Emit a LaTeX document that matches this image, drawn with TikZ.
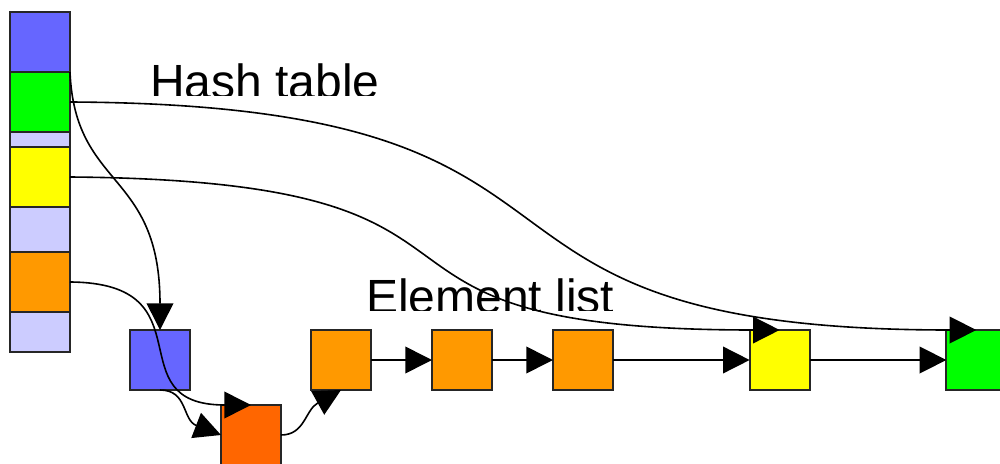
\documentclass[tikz,border=0pt]{standalone}
\usepackage{fontspec}
\setmainfont{Liberation Sans}
\usetikzlibrary{positioning,arrows.meta}

\definecolor{hblue}{HTML}{6666FF}
\definecolor{hgreen}{HTML}{00FF00}
\definecolor{hpale}{HTML}{CCCCFF}
\definecolor{hyellow}{HTML}{FFFF00}
\definecolor{horange}{HTML}{FF9900}
\definecolor{hred}{HTML}{FF6600}

\begin{document}
\begin{tikzpicture}[x=0.75pt, y=-0.75pt,
  >={Triangle[length=20pt,width=20pt]},
  cell/.style={draw=black!85, line width=1.5pt, inner sep=0pt, outer sep=0pt,
               minimum width=45pt},
  elem/.style={draw=black!85, line width=1.5pt, inner sep=0pt, outer sep=0pt,
               minimum size=45pt},
  lnk/.style={->, line width=1.2pt},
  lbl/.style={anchor=base west, inner sep=0pt,
              font=\fontsize{36pt}{43pt}\selectfont}]
  \useasboundingbox (0,0) rectangle (1000,464);
  % hash table column
  \node[cell, fill=hblue, minimum height=45pt] (h1) at (40,42) {};
  \node[cell, fill=hgreen, minimum height=45pt, below=0pt of h1] (h2) {};
  \node[cell, fill=hpale, minimum height=11.25pt, below=0pt of h2] (h3) {};
  \node[cell, fill=hyellow, minimum height=45pt, below=0pt of h3] (h4) {};
  \node[cell, fill=hpale, minimum height=33.75pt, below=0pt of h4] (h5) {};
  \node[cell, fill=horange, minimum height=45pt, below=0pt of h5] (h6) {};
  \node[cell, fill=hpale, minimum height=30pt, below=0pt of h6] (h7) {};
  % element list
  \node[elem, fill=hblue] (e1) at (160,360) {};
  \node[elem, fill=hred, below right=11.25pt and 23.25pt of e1] (e2) {};
  \node[elem, fill=horange, above right=11.25pt and 22.5pt of e2] (e3) {};
  \node[elem, fill=horange, right=45.75pt of e3] (e4) {};
  \node[elem, fill=horange, right=45.75pt of e4] (e5) {};
  \node[elem, fill=hyellow, right=102.5pt of e5] (e6) {};
  \node[elem, fill=hgreen, right=102.5pt of e6] (e7) {};
  % labels
  \begin{scope}
    \clip (140,40) rectangle (400,95);
    \node[lbl] (tbl) at (150,98.7) {Hash table};
  \end{scope}
  \begin{scope}
    \clip (355,260) rectangle (630,310);
    \node[lbl] (lst) at (366,313.7) {Element list};
  \end{scope}
  % buckets to elements
  \draw[lnk] (h1.south east) .. controls (75,190) and (160,170) .. (e1.north);
  \draw[lnk] (h2.east) .. controls (660,105) and (400,330) .. (e7.north);
  \draw[lnk] (h4.east) .. controls (562,181) and (296,330) .. (e6.north);
  \draw[lnk] (h6.east) .. controls (211,283) and (114,405) .. (e2.north);
  % list links
  \draw[lnk] (e1.south) .. controls (188,390) and (182,420) .. (e2.west);
  \draw[lnk] (e2.east) .. controls (305,435) and (305,410) .. (e3.south);
  \draw[lnk] (e3) -- (e4);
  \draw[lnk] (e4) -- (e5);
  \draw[lnk] (e5) -- (e6);
  \draw[lnk] (e6) -- (e7);
\end{tikzpicture}
\end{document}
